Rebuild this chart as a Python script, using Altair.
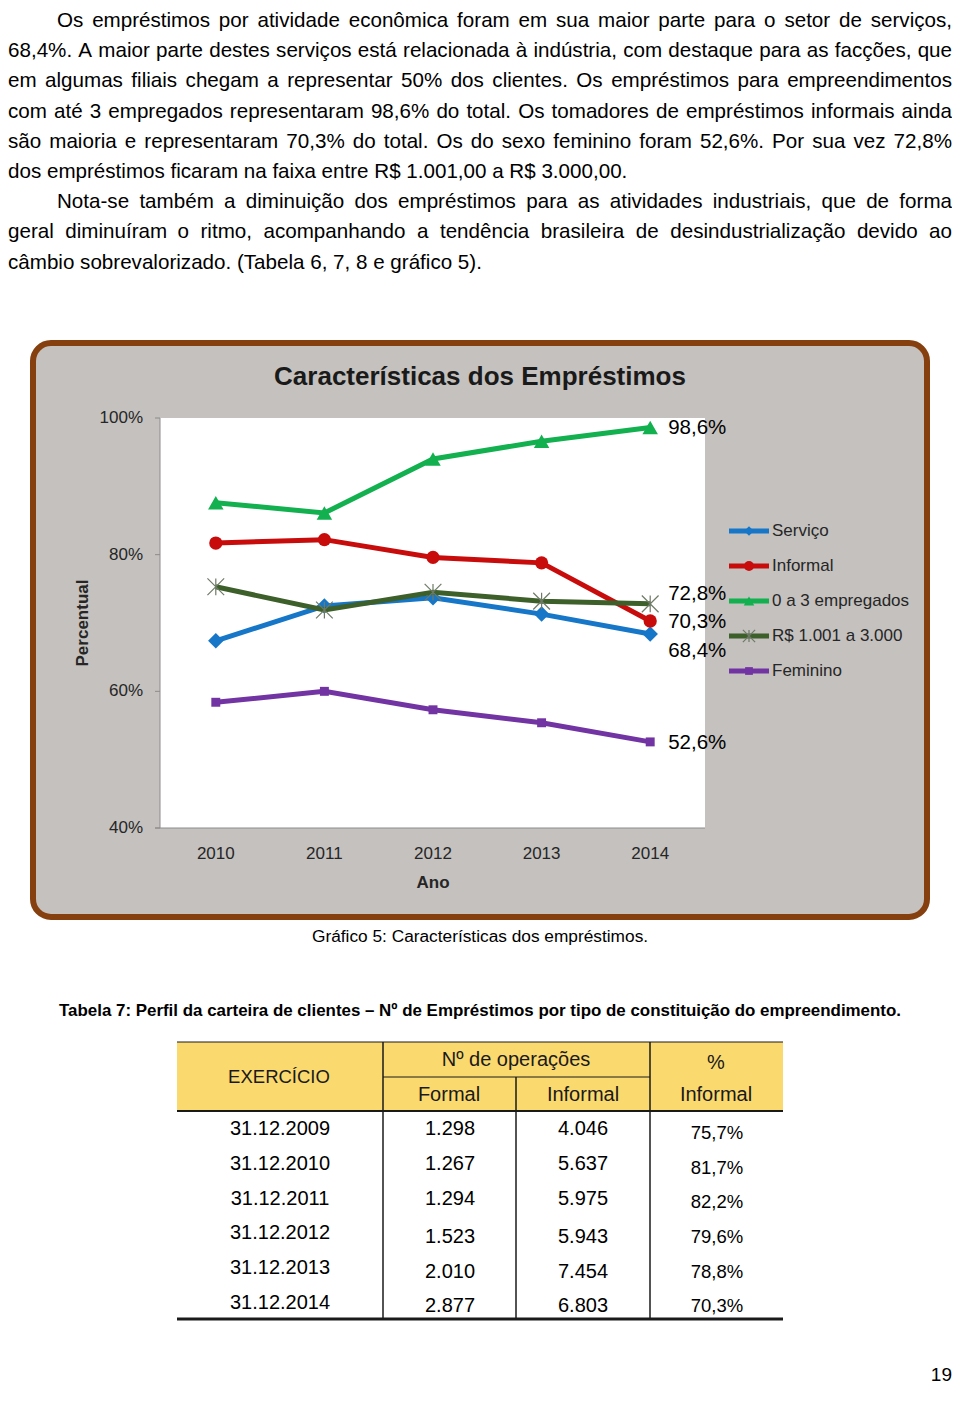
import unicodedata
import altair as alt
import pandas as pd

# ---------------- content / data ----------------
paragraph_lines = [
    "Os empréstimos por atividade econômica foram em sua maior parte para o setor de serviços,",
    "68,4%. A maior parte destes serviços está relacionada à indústria, com destaque para as facções, que",
    "em algumas filiais chegam a representar 50% dos clientes. Os empréstimos para empreendimentos",
    "com até 3 empregados representaram 98,6% do total. Os tomadores de empréstimos informais ainda",
    "são maioria e representaram 70,3% do total. Os do sexo feminino foram 52,6%. Por sua vez 72,8%",
    "dos empréstimos ficaram na faixa entre R$ 1.001,00 a R$ 3.000,00.",
    "Nota-se também a diminuição dos empréstimos para as atividades industriais, que de forma",
    "geral diminuíram o ritmo, acompanhando a tendência brasileira de desindustrialização devido ao",
    "câmbio sobrevalorizado. (Tabela 6, 7, 8 e gráfico 5).",
]
line_justified = [True, True, True, True, True, False, True, True, False]
line_indented = [True, False, False, False, False, False, True, False, False]

chart_title = "Características dos Empréstimos"
years = ["2010", "2011", "2012", "2013", "2014"]
series_names = ["Serviço", "Informal", "0 a 3 empregados", "R$ 1.001 a 3.000", "Feminino"]
servico = [67.4, 72.5, 73.7, 71.3, 68.4]
informal = [81.7, 82.2, 79.6, 78.8, 70.3]
empregados = [87.6, 86.1, 94.0, 96.6, 98.6]
faixa = [75.3, 71.9, 74.5, 73.2, 72.8]
feminino = [58.4, 60.0, 57.3, 55.4, 52.6]
end_labels = ["68,4%", "70,3%", "98,6%", "72,8%", "52,6%"]
y_ticks = [40, 60, 80, 100]
y_tick_labels = ["40%", "60%", "80%", "100%"]
y_title = "Percentual"
x_title = "Ano"
caption = "Gráfico 5: Características dos empréstimos."

table_title = ("Tabela 7: Perfil da carteira de clientes – Nº de Empréstimos por tipo "
               "de constituição do empreendimento.")
hdr_exercicio = "EXERCÍCIO"
hdr_ops = "Nº de operações"
hdr_pct = "%"
hdr_formal = "Formal"
hdr_informal = "Informal"
exercicio = ["31.12.2009", "31.12.2010", "31.12.2011", "31.12.2012", "31.12.2013", "31.12.2014"]
formal_ops = ["1.298", "1.267", "1.294", "1.523", "2.010", "2.877"]
informal_ops = ["4.046", "5.637", "5.975", "5.943", "7.454", "6.803"]
pct_informal = ["75,7%", "81,7%", "82,2%", "79,6%", "78,8%", "70,3%"]
page_number = "19"

# ---------------- styles ----------------
FONT = "Liberation Sans"
colors = ["#1676C8", "#C80C0C", "#12B04F", "#3D5F2A", "#7233A3"]
BG_GRAY = "#C4C1BE"
BROWN = "#86400F"
AXIS_GRAY = "#8C8C8C"
LABEL = "#262626"
YELLOW = "#FAD96E"
ASTERISK = "M-1,-1L1,1M-1,1L1,-1M0,-1L0,1"
marker_styles = [
    dict(shape="diamond", size=240, filled=True),
    dict(shape="circle", size=175, filled=True),
    dict(shape="triangle-up", size=240, filled=True),
    dict(shape=ASTERISK, size=280, filled=False, color="#6E7A66", sw=1.2),
    dict(shape="square", size=80, filled=True),
]
legend_sizes = [90, 100, 110, 150, 60]
label_dy = [17, 1, 0, -10, 1]

# Arial / Liberation Sans advance widths (1/1000 em)
REG = {' ': 278, 'a': 556, 'b': 556, 'c': 500, 'd': 556, 'e': 556, 'f': 278, 'g': 556, 'h': 556,
       'i': 222, 'j': 222, 'k': 500, 'l': 222, 'm': 833, 'n': 556, 'o': 556, 'p': 556, 'q': 556,
       'r': 333, 's': 500, 't': 278, 'u': 556, 'v': 500, 'w': 722, 'x': 500, 'y': 500, 'z': 500,
       'A': 667, 'B': 667, 'C': 722, 'D': 722, 'E': 667, 'F': 611, 'G': 778, 'H': 722, 'I': 278,
       'J': 500, 'K': 667, 'L': 556, 'M': 833, 'N': 722, 'O': 778, 'P': 667, 'Q': 778, 'R': 722,
       'S': 667, 'T': 611, 'U': 722, 'V': 667, 'W': 944, 'X': 667, 'Y': 667, 'Z': 611,
       '.': 278, ',': 278, ':': 278, ';': 278, '%': 889, '$': 556, '(': 333, ')': 333, '-': 333,
       '–': 556, 'º': 365}
BOLD = dict(REG)
BOLD.update({'b': 611, 'd': 611, 'f': 333, 'g': 611, 'h': 611, 'i': 278, 'j': 278, 'k': 556,
             'l': 278, 'm': 889, 'n': 611, 'o': 611, 'p': 611, 'q': 611, 'r': 389, 's': 556,
             't': 333, 'u': 611, 'v': 556, 'w': 778, 'x': 556, 'y': 556, 'c': 556,
             'A': 722, 'B': 722, 'J': 556, 'K': 722, 'L': 611, ':': 333, ';': 333})


def em_width(s, bold=False):
    tab = BOLD if bold else REG
    tot = 0
    for ch in s:
        base = unicodedata.normalize("NFD", ch)[0]
        tot += tab.get(ch, tab.get(base, 556))
    return tot / 1000.0


M = 8  # page margin


def px(v):
    return v - M


def text_layer(rows, **kw):
    d = pd.DataFrame({"text": [r[0] for r in rows],
                      "x": [px(r[1]) for r in rows],
                      "y": [px(r[2]) for r in rows]})
    return alt.Chart(d).mark_text(font=FONT, **kw).encode(
        x=alt.X("x:Q", scale=None, axis=None),
        y=alt.Y("y:Q", scale=None, axis=None),
        text="text:N")


layers = []

# ---------------- paragraph (justified) ----------------
para_fs = 20.6
left_x, right_x, indent_x = 8, 952, 57
rows_l, rows_r = [], []
for i, line in enumerate(paragraph_lines):
    yb = 27 + i * 30.2
    x0 = indent_x if line_indented[i] else left_x
    if not line_justified[i]:
        rows_l.append((line, x0, yb))
        continue
    words = line.split(" ")
    w = [em_width(t) * para_fs for t in words]
    gap = (right_x - x0 - sum(w)) / (len(words) - 1)
    half = len(words) // 2
    x = x0
    for k in range(half):
        rows_l.append((words[k], x, yb))
        x += w[k] + gap
    x = right_x
    for k in range(len(words) - 1, half - 1, -1):
        rows_r.append((words[k], x, yb))
        x -= w[k] + gap
layers.append(text_layer(rows_l, fontSize=para_fs, align="left", baseline="alphabetic", color="black"))
layers.append(text_layer(rows_r, fontSize=para_fs, align="right", baseline="alphabetic", color="black"))

# ---------------- chart frame ----------------
one = pd.DataFrame({"k": [0]})
layers.append(alt.Chart(one).mark_rect(fill=BG_GRAY, stroke=BROWN, strokeWidth=6, cornerRadius=18).encode(
    x=alt.value(px(33)), x2=alt.value(px(927)), y=alt.value(px(343)), y2=alt.value(px(917))))
layers.append(alt.Chart(one).mark_rect(fill="white").encode(
    x=alt.value(px(160)), x2=alt.value(px(705)), y=alt.value(px(418)), y2=alt.value(px(828))))
layers.append(alt.Chart(one).mark_rule(color=AXIS_GRAY, strokeWidth=1).encode(
    x=alt.value(px(160)), y=alt.value(px(418)), y2=alt.value(px(828))))
layers.append(alt.Chart(one).mark_rule(color=AXIS_GRAY, strokeWidth=1).encode(
    x=alt.value(px(155)), x2=alt.value(px(705)), y=alt.value(px(828))))

xs = alt.Scale(type="point", domain=years, range=[px(161.5), px(704.5)], padding=0.5)
ys = alt.Scale(domain=[40, 100], range=[px(828), px(418)], zero=False, nice=False)
ls = alt.Scale(type="point", domain=series_names, range=[px(531), px(671)], padding=0)

ytick_df = pd.DataFrame({"v": y_ticks, "lab": y_tick_labels})
layers.append(alt.Chart(ytick_df).mark_rule(color=AXIS_GRAY, strokeWidth=1).encode(
    y=alt.Y("v:Q", scale=ys, axis=None), x=alt.value(px(155)), x2=alt.value(px(160))))
layers.append(alt.Chart(ytick_df).mark_text(font=FONT, fontSize=17, align="right", baseline="middle",
                                            color=LABEL).encode(
    y=alt.Y("v:Q", scale=ys, axis=None), x=alt.value(px(143)), text="lab:N"))
layers.append(alt.Chart(pd.DataFrame({"year": years})).mark_text(
    font=FONT, fontSize=17, baseline="middle", color=LABEL).encode(
    x=alt.X("year:O", scale=xs, axis=None), y=alt.value(px(854)), text="year:N"))

# ---------------- series ----------------
recs = []
for s, vals in zip(series_names, [servico, informal, empregados, faixa, feminino]):
    for yr, v in zip(years, vals):
        recs.append({"series": s, "year": yr, "value": v})
df = pd.DataFrame(recs)

for i, s in enumerate(series_names):
    base = alt.Chart(df).transform_filter(alt.datum.series == s)
    enc = dict(x=alt.X("year:O", scale=xs, axis=None), y=alt.Y("value:Q", scale=ys, axis=None))
    layers.append(base.mark_line(color=colors[i], strokeWidth=5).encode(**enc))
    st = marker_styles[i]
    layers.append(base.mark_point(shape=st["shape"], size=st["size"], filled=st["filled"],
                                  color=st.get("color", colors[i]), opacity=1,
                                  strokeWidth=st.get("sw", 1)).encode(**enc))

for i, s in enumerate(series_names):
    base = alt.Chart(df).transform_filter(alt.datum.series == s).transform_filter(alt.datum.year == years[-1])
    layers.append(base.mark_text(font=FONT, fontSize=20.5, align="left", baseline="middle", dx=18,
                                 dy=label_dy[i], color="black").encode(
        x=alt.X("year:O", scale=xs, axis=None), y=alt.Y("value:Q", scale=ys, axis=None),
        text=alt.value(end_labels[i])))

# ---------------- legend ----------------
for i, s in enumerate(series_names):
    leg = alt.Chart(pd.DataFrame({"series": [s]}))
    yenc = alt.Y("series:N", scale=ls, axis=None)
    layers.append(leg.mark_rule(color=colors[i], strokeWidth=5).encode(
        y=yenc, x=alt.value(px(729)), x2=alt.value(px(769))))
    st = marker_styles[i]
    layers.append(leg.mark_point(shape=st["shape"], size=legend_sizes[i], filled=st["filled"],
                                 color=st.get("color", colors[i]), opacity=1,
                                 strokeWidth=st.get("sw", 1)).encode(y=yenc, x=alt.value(px(749))))
    layers.append(leg.mark_text(font=FONT, fontSize=17, align="left", baseline="middle",
                                color=LABEL).encode(y=yenc, x=alt.value(px(772)), text="series:N"))

# ---------------- chart texts ----------------
layers.append(text_layer([(chart_title, 480, 377)], fontSize=26, fontWeight="bold", baseline="middle",
                         align="center", color="#1a1a1a"))
layers.append(text_layer([(x_title, 433, 883)], fontSize=17, fontWeight="bold", baseline="middle",
                         align="center", color=LABEL))
layers.append(text_layer([(y_title, 83, 623)], fontSize=17, fontWeight="bold", baseline="middle",
                         align="center", angle=270, color=LABEL))
layers.append(text_layer([(caption, 480, 937)], fontSize=17.3, baseline="middle", align="center",
                         color="black"))
tt_fs = 844 / em_width(table_title, bold=True)
layers.append(text_layer([(table_title, 480, 1011)], fontSize=tt_fs, fontWeight="bold",
                         baseline="middle", align="center", color="black"))

# ---------------- table ----------------
layers.append(alt.Chart(one).mark_rect(fill=YELLOW).encode(
    x=alt.value(px(177)), x2=alt.value(px(783)), y=alt.value(px(1042)), y2=alt.value(px(1111))))
segs = [  # x1, x2, y1, y2, width (page coords)
    (177, 783, 1042, 1042, 1),
    (383, 650, 1077, 1077, 1),
    (177, 783, 1111, 1111, 2),
    (383, 383, 1042, 1319, 1.5),
    (516, 516, 1077, 1319, 1.5),
    (650, 650, 1042, 1319, 1.5),
    (177, 783, 1319, 1319, 3),
]
seg_df = pd.DataFrame({"x": [px(s[0]) for s in segs], "x2": [px(s[1]) for s in segs],
                       "y": [px(s[2]) for s in segs], "y2": [px(s[3]) for s in segs],
                       "w": [s[4] for s in segs]})
layers.append(alt.Chart(seg_df).mark_rule(color="#1a1a1a").encode(
    x=alt.X("x:Q", scale=None, axis=None), x2="x2:Q",
    y=alt.Y("y:Q", scale=None, axis=None), y2="y2:Q",
    strokeWidth=alt.StrokeWidth("w:Q", scale=None, legend=None)))

layers.append(text_layer([(hdr_exercicio, 279, 1077)], fontSize=18.5, align="center",
                         baseline="middle", color="#1a1a1a"))
hdr_rows = [(hdr_ops, 516, 1060), (hdr_pct, 716, 1063),
            (hdr_formal, 449, 1095), (hdr_informal, 583, 1095), (hdr_informal, 716, 1095)]
layers.append(text_layer(hdr_rows, fontSize=20, align="center", baseline="middle", color="#1a1a1a"))

date_y = [1129 + 34.8 * i for i in range(6)]
num_y = [1129, 1164, 1199, 1237, 1272, 1306]
pct_y = [1133, 1168, 1202, 1237, 1272, 1306]
body_rows = []
for i in range(6):
    body_rows.append((exercicio[i], 280, date_y[i]))
    body_rows.append((formal_ops[i], 450, num_y[i]))
    body_rows.append((informal_ops[i], 583, num_y[i]))
layers.append(text_layer(body_rows, fontSize=20, align="center", baseline="middle", color="black"))
layers.append(text_layer([(pct_informal[i], 717, pct_y[i]) for i in range(6)], fontSize=18.5,
                         align="center", baseline="middle", color="black"))

layers.append(text_layer([(page_number, 952, 1375)], fontSize=19, align="right", baseline="middle",
                         color="black"))

chart = alt.layer(*layers).properties(
    width=944, height=1380, padding=0, autosize=alt.AutoSizeParams(type="none")
).resolve_scale(x="independent", y="independent").configure_view(stroke=None)

chart.save("out.html", embed_options={"renderer": "svg", "actions": False})
